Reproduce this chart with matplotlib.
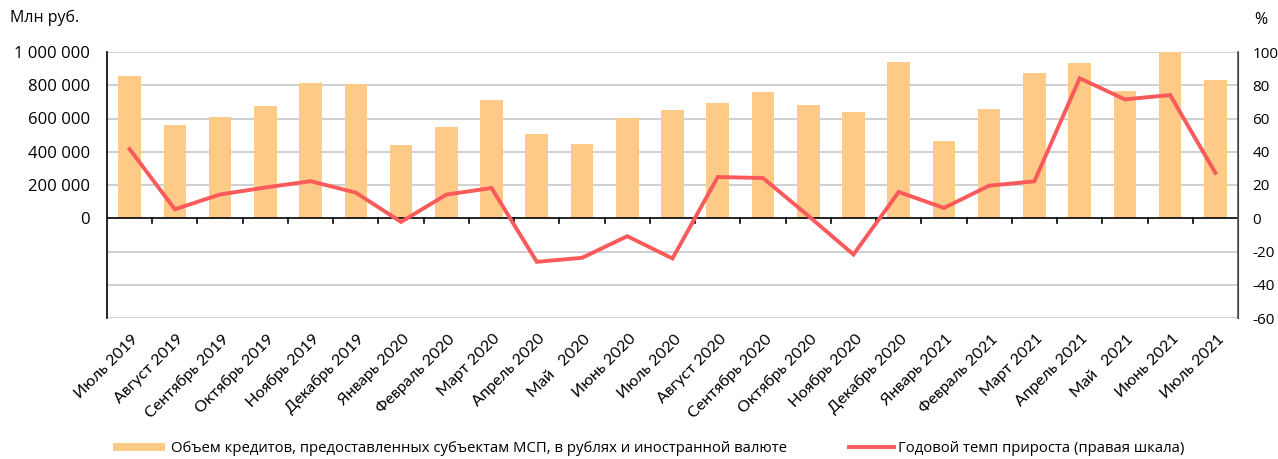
import matplotlib
matplotlib.use("Agg")
import matplotlib.pyplot as plt
from matplotlib.lines import Line2D
from matplotlib.patches import Patch
import numpy as np

months = ["Июль 2019", "Август 2019", "Сентябрь 2019", "Октябрь 2019", "Ноябрь 2019",
          "Декабрь 2019", "Январь 2020", "Февраль 2020", "Март 2020", "Апрель 2020",
          "Май   2020", "Июнь 2020", "Июль 2020", "Август 2020", "Сентябрь 2020",
          "Октябрь 2020", "Ноябрь 2020", "Декабрь 2020", "Январь 2021", "Февраль 2021",
          "Март 2021", "Апрель 2021", "Май   2021", "Июнь 2021", "Июль 2021"]

credit_volume = [854000, 558000, 612000, 675000, 815000,
                 809000, 438000, 546000, 713000, 504000,
                 444000, 604000, 649000, 696000, 758000,
                 684000, 637000, 937000, 467000, 655000,
                 872000, 931000, 765000, 1000000, 829000]

growth_rate = [41.6, 5.4, 14.3, 18.5, 22.3,
               15.4, -2.2, 14.2, 18.2, -26.2,
               -23.8, -10.8, -24.2, 24.8, 24.2,
               1.5, -21.8, 15.8, 6.2, 19.6,
               22.2, 84.2, 71.5, 74.1, 27.3]

left_ticks = [0, 200000, 400000, 600000, 800000, 1000000]
left_ticklabels = ["0", "200 000", "400 000", "600 000", "800 000", "1 000 000"]
right_ticks = [-60, -40, -20, 0, 20, 40, 60, 80, 100]

bar_color = "#FDCA87"
line_color = "#FA5A5A"
grid_color = "#C8C8C8"
main_font = "Open Sans"

W, H = 1278, 459
fig = plt.figure(figsize=(W / 100, H / 100), dpi=100)
L, R, T, B = 107, 1238, 52, 318
ax = fig.add_axes([L / W, 1 - B / H, (R - L) / W, (B - T) / H])
ax2 = ax.twinx()

x = np.arange(len(months))
ax.bar(x, credit_volume, width=0.5, color=bar_color, zorder=2)
ax.set_xlim(-0.5, len(months) - 0.5)
ax.set_ylim(-600000, 1000000)

# gridlines
for v in [-400000, -200000, 200000, 400000, 600000, 800000, 1000000, -600000]:
    ax.axhline(v, color=grid_color, lw=1.2, zorder=1)
ax.axhline(0, color="black", lw=1.2, zorder=3)

ax.set_yticks(left_ticks)
ax.set_yticklabels(left_ticklabels, fontsize=12, family=main_font)
ax.tick_params(axis="y", length=0, pad=12.5)

# x ticks (category boundaries on the zero line)
ax.set_xticks([])
for b in np.arange(0.5, len(months) - 0.5, 1.0):
    ax.plot([b, b], [0, -30000], color="black", lw=1.2, zorder=3, clip_on=False)

for i, m in enumerate(months):
    ax.annotate(m, xy=(i, 0), xycoords=("data", "axes fraction"),
                xytext=(1, -10), textcoords="offset points",
                rotation=45, ha="right", va="top", rotation_mode="anchor",
                fontsize=11.5, family="Lato")

for s in ["top", "bottom"]:
    ax.spines[s].set_visible(False)
ax.spines["left"].set_color("black")
ax.spines["left"].set_linewidth(1.2)
for s in ["top", "bottom", "left"]:
    ax2.spines[s].set_visible(False)
ax2.spines["right"].set_color("#555555")
ax2.spines["right"].set_linewidth(1.2)

ax2.plot(x, growth_rate, color=line_color, lw=2.8, zorder=4, solid_joinstyle="miter")
ax2.set_ylim(-60, 100)
ax2.set_yticks(right_ticks)
ax2.set_yticklabels([str(v) for v in right_ticks], fontsize=11, family=main_font)
ax2.tick_params(axis="y", length=0, pad=10.5)

fig.text(10 / W, 1 - 18 / H, "Млн руб.", fontsize=11.5, family=main_font, va="center", ha="left")
fig.text(1254 / W, 1 - 20 / H, "%", fontsize=11.5, family=main_font, va="center", ha="left")

handles = [Patch(facecolor=bar_color, edgecolor="none"),
           Line2D([0], [0], color=line_color, lw=2.8)]
labels = ["Объем кредитов, предоставленных субъектам МСП, в рублях и иностранной валюте",
          "Годовой темп прироста (правая шкала)"]
leg1 = fig.legend([handles[0]], [labels[0]], loc="center left",
                  bbox_to_anchor=(100 / W, 1 - 449 / H), frameon=False,
                  prop={"family": main_font, "size": 10.7}, handlelength=3.5,
                  handleheight=0.5, handletextpad=0.4)
leg2 = fig.legend([handles[1]], [labels[1]], loc="center left",
                  bbox_to_anchor=(836 / W, 1 - 449 / H), frameon=False,
                  prop={"family": main_font, "size": 10.7}, handlelength=3.0,
                  handletextpad=0.25)

fig.savefig("out.png", dpi=100)
